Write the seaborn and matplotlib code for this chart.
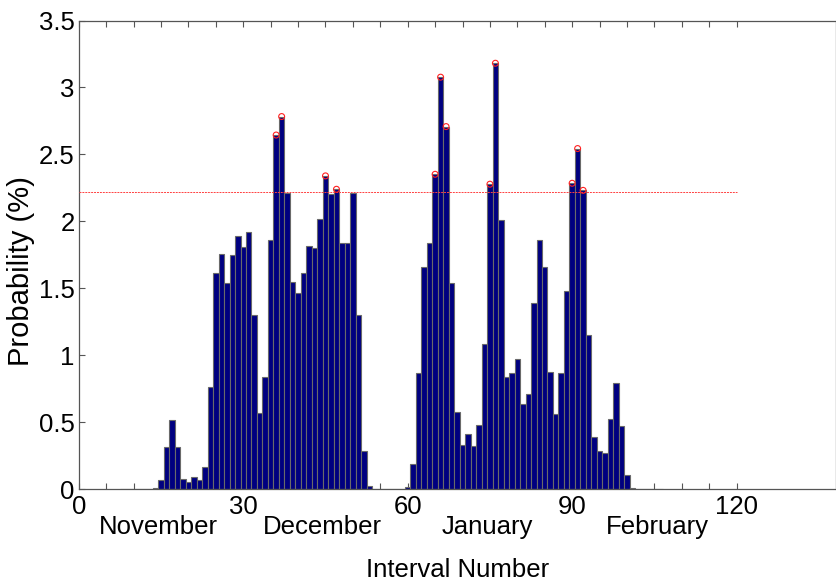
import numpy as np
import pandas as pd
import matplotlib
matplotlib.use("Agg")
import matplotlib.pyplot as plt
import seaborn as sns

# Probability (%) for each interval number
interval = list(range(8, 107))
probability = [
    0.003, 0.004, 0.004, 0.005, 0.006, 0.006, 0.008,            # 8-14
    0.067, 0.314, 0.518, 0.314, 0.079, 0.057, 0.090, 0.067,    # 15-22
    0.166, 0.764, 1.613, 1.760, 1.538, 1.750, 1.890, 1.812,    # 23-30
    1.919, 1.305, 0.568, 0.836, 1.862, 2.645, 2.783, 2.210,    # 31-38
    1.548, 1.464, 1.613, 1.815, 1.800, 2.019, 2.340, 2.205,    # 39-46
    2.240, 1.837, 1.842, 2.214, 1.302, 0.288, 0.025, 0.004,    # 47-54
    0.004, 0.003, 0.004, 0.005, 0.006, 0.020, 0.187, 0.866,    # 55-62
    1.658, 1.837, 2.352, 3.077, 2.708, 1.543, 0.580, 0.328,    # 63-70
    0.411, 0.326, 0.480, 1.083, 2.278, 3.181, 2.009, 0.841,    # 71-78
    0.866, 0.975, 0.637, 0.712, 1.389, 1.859, 1.663, 0.874,    # 79-86
    0.560, 0.866, 1.479, 2.285, 2.544, 2.232, 1.152, 0.393,    # 87-94
    0.286, 0.269, 0.523, 0.792, 0.473, 0.105, 0.007, 0.004,    # 95-102
    0.003, 0.003, 0.003, 0.002,                                # 103-106
]
threshold = 2.22
threshold_span = [0, 120]

x_ticks = list(range(0, 121, 5))
x_labeled = [0, 30, 60, 90, 120]
y_ticks = [0, 0.5, 1, 1.5, 2, 2.5, 3, 3.5]
y_tick_labels = ["0", "0.5", "1", "1.5", "2", "2.5", "3", "3.5"]
months = ["November", "December", "January", "February"]
month_pos = [14.5, 44.5, 74.5, 105.5]

df = pd.DataFrame({"interval": interval, "probability": probability})
peaks = df[df["probability"] > threshold]

sns.set_style("white")
plt.rcParams["font.family"] = ["Liberation Sans", "DejaVu Sans"]
plt.rcParams["text.color"] = "black"
plt.rcParams["axes.labelcolor"] = "black"

fig = plt.figure(figsize=(8.37, 5.86), dpi=100)
ax = fig.add_axes([0.0942, 0.165, 0.905, 0.800])

sns.barplot(data=df, x="interval", y="probability", native_scale=True,
            width=1.0, color="#000080", saturation=1,
            edgecolor="#6a6a6a", linewidth=0.8, ax=ax)

ax.hlines(threshold, threshold_span[0], threshold_span[1], colors="#ff4040",
          linewidth=0.7, linestyles=(0, (2, 1)), zorder=3)

sns.scatterplot(data=peaks, x="interval", y="probability", ax=ax,
                marker="o", s=18, facecolor="none", edgecolor="#ff2020",
                linewidth=0.8, zorder=4)

ax.set_xlim(0, 138.2)
ax.set_ylim(0, 3.5)
ax.set_xticks(x_ticks)
ax.set_xticklabels([str(t) if t in x_labeled else "" for t in x_ticks])
ax.set_yticks(y_ticks)
ax.set_yticklabels(y_tick_labels)

ax.tick_params(axis="both", direction="in", length=4, width=0.8,
               color="#555555", labelcolor="black", labelsize=18.5, pad=3,
               top=True, right=False, bottom=True, left=True)
ax.tick_params(axis="x", pad=4)
for s in ax.spines.values():
    s.set_visible(True)
    s.set_color("#555555")
    s.set_linewidth(0.9)

trans = ax.get_xaxis_transform()
for name, pos in zip(months, month_pos):
    ax.text(pos, -0.081, name, transform=trans, ha="center", va="center",
            fontsize=18.5)

ax.set_xlabel("Interval Number", fontsize=18.5, labelpad=28)
ax.set_ylabel("Probability (%)", fontsize=21)
ax.yaxis.set_label_coords(-0.058, 0.466)

fig.savefig("out.png", dpi=100)
